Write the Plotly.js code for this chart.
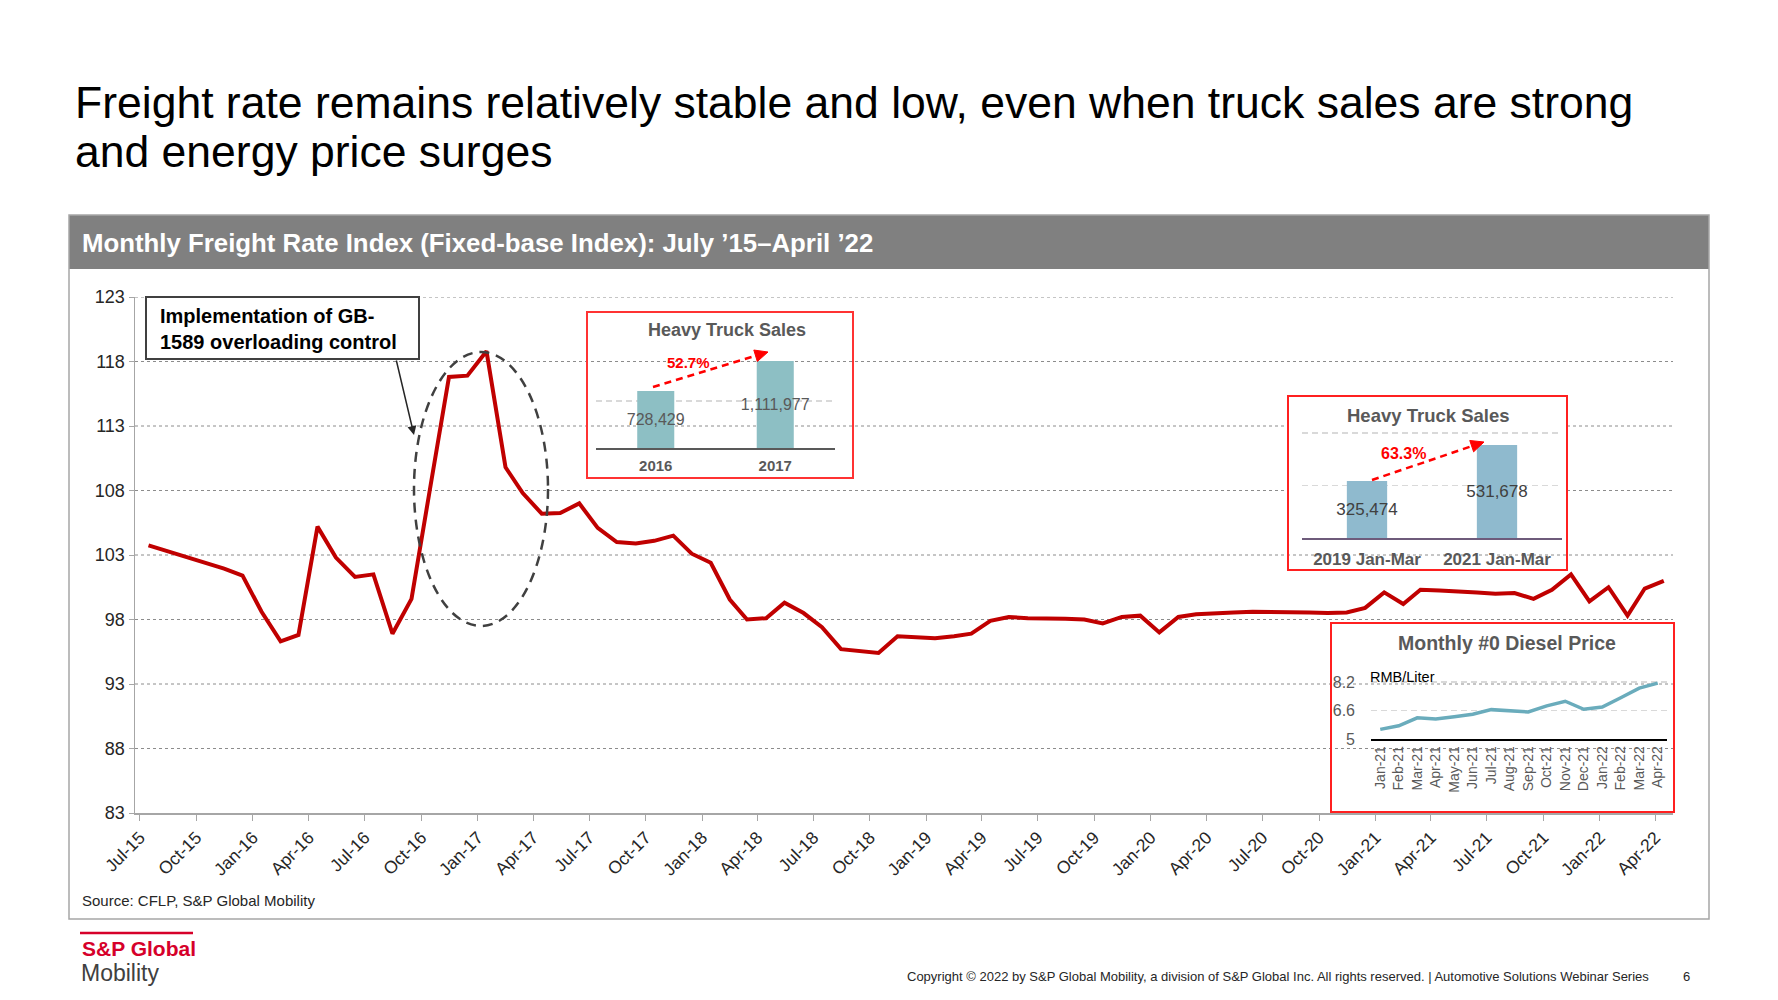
<!DOCTYPE html>
<html>
<head>
<meta charset="utf-8">
<script src="https://cdn.plot.ly/plotly-3.0.1.min.js"></script>
<style>html,body{margin:0;padding:0;background:#fff}#chart{width:1778px;height:1000px}</style>
</head>
<body>
<div id="chart"></div>
<script>
// ---------------- DATA ----------------
const months = [
 "2015-07","2015-08","2015-09","2015-10","2015-11","2015-12",
 "2016-01","2016-02","2016-03","2016-04","2016-05","2016-06","2016-07","2016-08","2016-09","2016-10","2016-11","2016-12",
 "2017-01","2017-02","2017-03","2017-04","2017-05","2017-06","2017-07","2017-08","2017-09","2017-10","2017-11","2017-12",
 "2018-01","2018-02","2018-03","2018-04","2018-05","2018-06","2018-07","2018-08","2018-09","2018-10","2018-11","2018-12",
 "2019-01","2019-02","2019-03","2019-04","2019-05","2019-06","2019-07","2019-08","2019-09","2019-10","2019-11","2019-12",
 "2020-01","2020-02","2020-03","2020-04","2020-05","2020-06","2020-07","2020-08","2020-09","2020-10","2020-11","2020-12",
 "2021-01","2021-02","2021-03","2021-04","2021-05","2021-06","2021-07","2021-08","2021-09","2021-10","2021-11","2021-12",
 "2022-01","2022-02","2022-03","2022-04"
];
const freightIndex = [
 103.75,103.3,102.85,102.4,101.95,101.4,
 98.6,96.3,96.8,105.2,102.8,101.3,101.5,96.9,99.6,108.1,116.8,116.9,
 118.8,109.8,107.8,106.2,106.25,107.0,105.1,104.0,103.9,104.1,104.5,103.1,
 102.4,99.55,98.0,98.1,99.3,98.5,97.4,95.7,95.55,95.4,96.7,96.6,
 96.55,96.7,96.9,97.9,98.2,98.1,98.1,98.05,98.0,97.7,98.2,98.3,
 97.0,98.2,98.4,98.5,98.55,98.6,98.6,98.55,98.55,98.5,98.55,98.9,
 100.1,99.2,100.3,100.25,100.2,100.1,100.0,100.05,99.6,100.3,101.5,99.4,
 100.5,98.3,100.4,101.0
];
const yTicks = [83,88,93,98,103,108,113,118,123];

const sales1Cats = ["2016","2017"];
const sales1 = [728429, 1111977];
const growth1 = "52.7%";

const sales2Cats = ["2019 Jan-Mar","2021 Jan-Mar"];
const sales2 = [325474, 531678];
const growth2 = "63.3%";

const dieselMonths = ["Jan-21","Feb-21","Mar-21","Apr-21","May-21","Jun-21","Jul-21","Aug-21","Sep-21","Oct-21","Nov-21","Dec-21","Jan-22","Feb-22","Mar-22","Apr-22"];
const dieselPrice = [5.54,5.74,6.19,6.12,6.25,6.39,6.65,6.58,6.52,6.86,7.12,6.67,6.80,7.32,7.86,8.14];
const dieselTicks = [5, 6.6, 8.2];

// ---------------- LAYOUT HELPERS ----------------
const W = 1778, H = 1000;
const X = p => p / W;
const Y = p => 1 - p / H;
const FONT = '"Liberation Sans", Arial, sans-serif';

// main plot area in pixels
const main = {l:135, r:1673, top:297, bottom:813, ymin:83, ymax:123};
const valToPx = v => main.top + (main.ymax - v) / (main.ymax - main.ymin) * (main.bottom - main.top);
// inset 2 box (covers main gridlines)
const box2 = {l:1288, r:1567, t:396, b:570, coverBottom:546};

function dashedArrow(x0, y0, x1, y1, color) {
  const dx = x1 - x0, dy = y1 - y0, L = Math.sqrt(dx*dx + dy*dy);
  const ux = dx / L, uy = dy / L;
  const hl = 13, hw = 6;
  const bx = x1 - ux*hl, by = y1 - uy*hl;
  const px = -uy, py = ux;
  return [
    {type:'line', xref:'paper', yref:'paper', x0:X(x0), y0:Y(y0), x1:X(bx), y1:Y(by),
     line:{color:color, width:2.5, dash:'7px,5px'}, layer:'above'},
    {type:'path', xref:'paper', yref:'paper',
     path:`M ${X(x1)} ${Y(y1)} L ${X(bx+px*hw)} ${Y(by+py*hw)} L ${X(bx-px*hw)} ${Y(by-py*hw)} Z`,
     fillcolor:color, line:{color:color, width:1}, layer:'above'}
  ];
}

// main horizontal gridlines (dashed), interrupted where inset 2 sits
const gridShapes = [];
yTicks.filter(v => v > main.ymin).forEach(v => {
  const py = valToPx(v);
  const segs = (py > box2.t && py < box2.coverBottom)
    ? [[main.l, box2.l], [box2.r, main.r]] : [[main.l, main.r]];
  segs.forEach(s => gridShapes.push({type:'line', xref:'paper', yref:'y', x0:X(s[0]), x1:X(s[1]), y0:v, y1:v,
    line:{color:'#8C8C8C', width:1, dash:'3px,3px'}, layer:'below'}));
});

// ---------------- TRACES ----------------
const traces = [
  {type:'scatter', mode:'lines', x: months.map(m => m + '-15'), y: freightIndex,
   xaxis:'x', yaxis:'y', line:{color:'#C00000', width:4}, hoverinfo:'skip'},
  {type:'bar', x: sales1Cats, y: sales1, xaxis:'x2', yaxis:'y2', width:0.31,
   marker:{color:'#8DBFC4'}, texttemplate:'%{y:,}', textposition:'inside',
   insidetextanchor:'middle', textangle:0, constraintext:'none',
   textfont:{family:FONT, size:16, color:'#595959'}, hoverinfo:'skip'},
  {type:'bar', x: sales2Cats, y: sales2, xaxis:'x3', yaxis:'y3', width:0.31,
   marker:{color:'#8FBACE'}, texttemplate:'%{y:,}', textposition:'inside',
   insidetextanchor:'middle', textangle:0, constraintext:'none',
   textfont:{family:FONT, size:17, color:'#404040'}, hoverinfo:'skip'},
  {type:'scatter', mode:'lines', x: dieselMonths, y: dieselPrice, xaxis:'x4', yaxis:'y4',
   line:{color:'#6AACBC', width:3.5}, hoverinfo:'skip'}
];

// ---------------- SHAPES ----------------
const shapes = gridShapes.concat([
  // header bar & chart frame
  {type:'rect', xref:'paper', yref:'paper', x0:X(69), x1:X(1709), y0:Y(215), y1:Y(269), fillcolor:'#808080', line:{width:0}, layer:'above'},
  {type:'rect', xref:'paper', yref:'paper', x0:X(69), x1:X(1709), y0:Y(215), y1:Y(919), line:{color:'#A6A6A6', width:1.5}, layer:'above'},
  // red inset borders
  {type:'rect', xref:'paper', yref:'paper', x0:X(587), x1:X(853), y0:Y(312), y1:Y(478), line:{color:'#FF3333', width:2}, layer:'above'},
  {type:'rect', xref:'paper', yref:'paper', x0:X(box2.l), x1:X(box2.r), y0:Y(box2.t), y1:Y(box2.b), line:{color:'#FF2020', width:2}, layer:'above'},
  {type:'rect', xref:'paper', yref:'paper', x0:X(1331), x1:X(1674), y0:Y(623), y1:Y(812), line:{color:'#FF2020', width:2}, layer:'above'},
  // GB-1589 callout box
  {type:'rect', xref:'paper', yref:'paper', x0:X(146), x1:X(419), y0:Y(297), y1:Y(359), fillcolor:'#FFFFFF', line:{color:'#404040', width:2}, layer:'above'},
  // dashed ellipse
  {type:'circle', xref:'paper', yref:'paper', x0:X(414), x1:X(548), y0:Y(352), y1:Y(626), line:{color:'#404040', width:2.5, dash:'10px,7px'}, layer:'above'},
  // logo rule
  {type:'line', xref:'paper', yref:'paper', x0:X(80), x1:X(193), y0:Y(933), y1:Y(933), line:{color:'#D6002A', width:2.5}, layer:'above'}
])
.concat(dashedArrow(653, 387, 768, 352, '#FF0000'))
.concat(dashedArrow(1372, 480, 1484, 442, '#FF0000'));

// ---------------- ANNOTATIONS ----------------
const ann = (x, y, text, font, opts) => Object.assign({
  xref:'paper', yref:'paper', x:X(x), y:Y(y), text:text, showarrow:false,
  xanchor:'left', yanchor:'middle', font:Object.assign({family:FONT}, font)
}, opts || {});

const annotations = [
  ann(73, 103, 'Freight rate remains relatively stable and low, even when truck sales are strong', {size:44.5, color:'#000000'}),
  ann(73, 151, 'and energy price surges', {size:44.5, color:'#000000'}),
  ann(80, 243, 'Monthly Freight Rate Index (Fixed-base Index): July ’15–April ’22', {size:25.8, color:'#FFFFFF', weight:'bold'}),
  ann(80, 900, 'Source: CFLP, S&P Global Mobility', {size:15, color:'#262626'}),
  ann(158, 329, 'Implementation of GB-<br>1589 overloading control', {size:20, color:'#000000', weight:'bold'}, {align:'left'}),
  {xref:'paper', yref:'paper', x:X(414), y:Y(435), ax:-18, ay:-76, text:'', showarrow:true,
   arrowhead:2, arrowsize:1.2, arrowwidth:1.5, arrowcolor:'#262626'},
  // inset 1
  ann(727, 330, 'Heavy Truck Sales', {size:18, color:'#595959', weight:'bold'}, {xanchor:'center'}),
  ann(688, 362, growth1, {size:15, color:'#FF0000', weight:'bold'}, {xanchor:'center'}),
  // inset 2
  ann(1428, 416, 'Heavy Truck Sales', {size:18.5, color:'#595959', weight:'bold'}, {xanchor:'center'}),
  ann(1403, 453, growth2, {size:16, color:'#FF0000', weight:'bold'}, {xanchor:'center'}),
  // inset 3
  ann(1507, 643, 'Monthly #0 Diesel Price', {size:19.5, color:'#595959', weight:'bold'}, {xanchor:'center'}),
  ann(1368, 677, 'RMB/Liter', {size:14.5, color:'#000000'}),
  // logo & footer
  ann(80, 948, 'S&P Global', {size:21, color:'#D6002A', weight:'bold'}),
  ann(79, 973, 'Mobility', {size:23, color:'#404040'}),
  ann(1651, 976, 'Copyright © 2022 by S&P Global Mobility, a division of S&P Global Inc. All rights reserved. | Automotive Solutions Webinar Series', {size:13, color:'#262626'}, {xanchor:'right'}),
  ann(1686, 976, '6', {size:13, color:'#262626'}, {xanchor:'center'})
];

// ---------------- LAYOUT ----------------
const layout = {
  width: W, height: H,
  margin:{l:0, r:0, t:0, b:0},
  paper_bgcolor:'#FFFFFF', plot_bgcolor:'rgba(0,0,0,0)',
  showlegend:false,
  font:{family:FONT, color:'#262626'},
  xaxis:{type:'date', domain:[X(main.l), X(main.r)], range:['2015-06-23','2022-04-30'],
    tick0:'2015-07-01', dtick:'M3', tickformat:'%b-%y', tickangle:-45,
    ticks:'outside', ticklen:6, tickcolor:'#A6A6A6', showline:true, linecolor:'#A6A6A6', linewidth:1.5,
    showgrid:false, zeroline:false, tickfont:{size:17.5, color:'#262626'}, anchor:'y', automargin:false},
  yaxis:{domain:[Y(main.bottom), Y(main.top)], range:[main.ymin, main.ymax], tickvals:yTicks, anchor:'x',
    showgrid:false,
    showline:true, linecolor:'#A6A6A6', linewidth:1.5, ticks:'outside', ticklen:5, tickcolor:'#A6A6A6',
    zeroline:false, tickfont:{size:18, color:'#262626'}, automargin:false},
  xaxis2:{domain:[X(596), X(835)], anchor:'y2', type:'category', range:[-0.5,1.5],
    showline:true, linecolor:'#595959', linewidth:2, ticks:'', showgrid:false, zeroline:false, ticklabelstandoff:3,
    tickfont:{size:15, color:'#595959', weight:'bold'}, automargin:false},
  yaxis2:{domain:[Y(448), Y(354)], anchor:'x2', range:[0,1200000], tickvals:[600000,1200000],
    showticklabels:false, showgrid:true, gridcolor:'#D9D9D9', griddash:'6px,4px', gridwidth:1.5,
    showline:false, zeroline:false, automargin:false},
  xaxis3:{domain:[X(1302), X(1562)], anchor:'y3', type:'category', range:[-0.5,1.5],
    showline:true, linecolor:'#6E5B7B', linewidth:2, ticks:'', showgrid:false, zeroline:false, ticklabelstandoff:5,
    tickfont:{size:17, color:'#595959', weight:'bold'}, automargin:false},
  yaxis3:{domain:[Y(538), Y(429.5)], anchor:'x3', range:[0,620000], tickvals:[300000,600000],
    showticklabels:false, showgrid:true, gridcolor:'#D9D9D9', griddash:'6px,4px', gridwidth:1.5,
    showline:false, zeroline:false, automargin:false},
  xaxis4:{domain:[X(1371), X(1667)], anchor:'y4', type:'category', range:[-0.5,15.5],
    tickangle:-90, showline:true, linecolor:'#000000', linewidth:1.5, ticks:'', showgrid:false, zeroline:false,
    tickfont:{size:14, color:'#595959'}, automargin:false},
  yaxis4:{domain:[Y(739), Y(676.7)], anchor:'x4', range:[5,8.5], tickvals:dieselTicks, ticktext:dieselTicks.map(String),
    showgrid:true, gridcolor:'#D9D9D9', griddash:'6px,4px', gridwidth:1.5, ticks:'', ticklabelstandoff:15,
    showline:false, zeroline:false, tickfont:{size:16, color:'#595959'}, automargin:false},
  shapes: shapes,
  annotations: annotations
};

Plotly.newPlot('chart', traces, layout, {staticPlot:true, displayModeBar:false});
</script>
</body>
</html>
